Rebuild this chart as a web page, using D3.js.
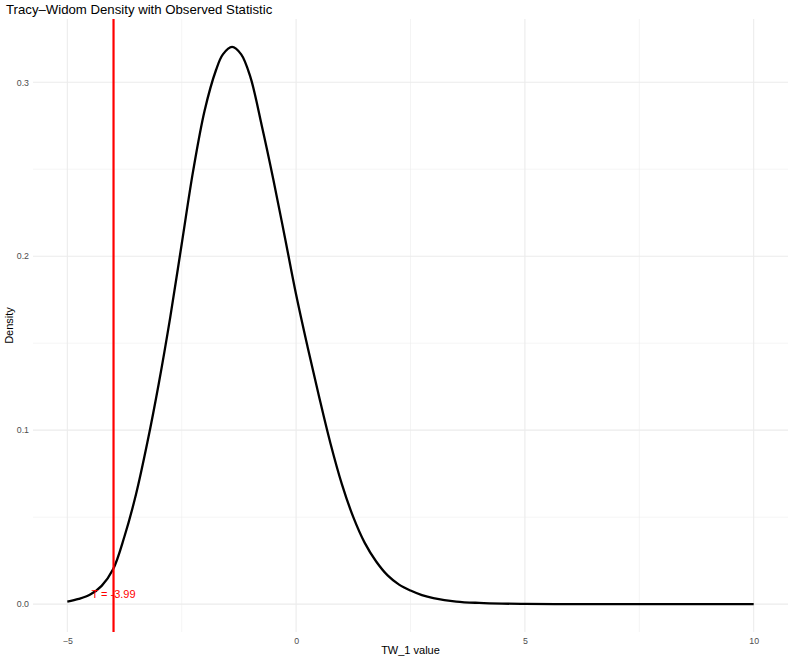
<!DOCTYPE html>
<html>
<head>
<meta charset="utf-8">
<script src="https://cdn.jsdelivr.net/npm/d3@7"></script>
<style>
  html, body { margin: 0; padding: 0; background: #fff; }
  svg { display: block; font-family: "Liberation Sans", Arial, Helvetica, sans-serif; }
</style>
</head>
<body>
<svg id="chart" width="793" height="661"></svg>
<script>
// ---- data ----
const xValues = [-5, -4.75, -4.5, -4.25, -4, -3.75, -3.5, -3.25, -3, -2.75, -2.5, -2.25, -2, -1.75, -1.6, -1.4, -1.2, -1, -0.75, -0.5, -0.25, 0, 0.25, 0.5, 0.75, 1, 1.25, 1.5, 1.75, 2, 2.25, 2.5, 2.75, 3, 3.5, 4, 4.5, 5, 6, 7, 8, 9, 10];
const densityValues = [0.0014, 0.0030, 0.0055, 0.0105, 0.0200, 0.0390, 0.0630, 0.0930, 0.1270, 0.1650, 0.2070, 0.2490, 0.2836, 0.3070, 0.3160, 0.3203, 0.3160, 0.3030, 0.2750, 0.2444, 0.2115, 0.1780, 0.1480, 0.1195, 0.0925, 0.0690, 0.0500, 0.0352, 0.0245, 0.0165, 0.0112, 0.0078, 0.0052, 0.0035, 0.0015, 0.0007, 0.0003, 0.00015, 0.00003, 0, 0, 0, 0];
const observedStat = -3.99;
const labelY = 0.006;
const xTicks = [-5, 0, 5, 10];
const xMinorTicks = [-2.5, 2.5, 7.5];
const yTicks = [0.0, 0.1, 0.2, 0.3];
const yMinorTicks = [0.05, 0.15, 0.25];
const titleText = "Tracy\u2013Widom Density with Observed Statistic";
const xTitle = "TW_1 value";
const yTitle = "Density";

// ---- layout ----
const svg = d3.select("#chart");
const panel = { left: 33, right: 788, top: 19, bottom: 632 };

const xExt = [-5, 10];
const xPad = (xExt[1] - xExt[0]) * 0.05;
const x = d3.scaleLinear().domain([xExt[0] - xPad, xExt[1] + xPad]).range([panel.left, panel.right]);
const yMax = d3.max(densityValues);
const yPad = yMax * 0.05;
const y = d3.scaleLinear().domain([0 - yPad, yMax + yPad]).range([panel.bottom, panel.top]);

const grid = svg.append("g");
grid.selectAll(".xminor").data(xMinorTicks).join("line")
  .attr("x1", d => x(d)).attr("x2", d => x(d))
  .attr("y1", panel.top).attr("y2", panel.bottom)
  .attr("stroke", "#EBEBEB").attr("stroke-width", 0.55);
grid.selectAll(".yminor").data(yMinorTicks).join("line")
  .attr("y1", d => y(d)).attr("y2", d => y(d))
  .attr("x1", panel.left).attr("x2", panel.right)
  .attr("stroke", "#EBEBEB").attr("stroke-width", 0.55);
grid.selectAll(".xmajor").data(xTicks).join("line")
  .attr("x1", d => x(d)).attr("x2", d => x(d))
  .attr("y1", panel.top).attr("y2", panel.bottom)
  .attr("stroke", "#EBEBEB").attr("stroke-width", 1.07);
grid.selectAll(".ymajor").data(yTicks).join("line")
  .attr("y1", d => y(d)).attr("y2", d => y(d))
  .attr("x1", panel.left).attr("x2", panel.right)
  .attr("stroke", "#EBEBEB").attr("stroke-width", 1.07);

const fmtX = d => d < 0 ? "\u2212" + Math.abs(d) : String(d);
const xAxis = d3.axisBottom(x).tickValues(xTicks).tickSize(0).tickPadding(0).tickFormat(fmtX);
const gx = svg.append("g").attr("transform", `translate(0,${panel.bottom})`).call(xAxis);
gx.select(".domain").remove();
gx.selectAll("text").attr("fill", "#4D4D4D").attr("font-size", "8.8px").attr("dy", "0").attr("y", 12);

const yAxis = d3.axisLeft(y).tickValues(yTicks).tickSize(0).tickPadding(0).tickFormat(d3.format(".1f"));
const gy = svg.append("g").attr("transform", `translate(${panel.left - 4},0)`).call(yAxis);
gy.select(".domain").remove();
gy.selectAll("text").attr("fill", "#4D4D4D").attr("font-size", "8.8px").attr("x", 0).attr("dy", "0.32em");

const pts = xValues.map((v, i) => [v, densityValues[i]]);
const line = d3.line().x(d => x(d[0])).y(d => y(d[1])).curve(d3.curveCatmullRom.alpha(0.5));
svg.append("path").datum(pts)
  .attr("d", line).attr("fill", "none")
  .attr("stroke", "#000").attr("stroke-width", 2.3).attr("stroke-linejoin", "round");

svg.append("line")
  .attr("x1", x(observedStat)).attr("x2", x(observedStat))
  .attr("y1", panel.top).attr("y2", panel.bottom)
  .attr("stroke", "#FF0000").attr("stroke-width", 2.2);
svg.append("text")
  .attr("x", x(observedStat)).attr("y", y(labelY))
  .attr("text-anchor", "middle").attr("dy", "0.35em")
  .attr("fill", "#FF0000").attr("font-size", "11px")
  .text("T = " + observedStat.toFixed(2));

svg.append("text").attr("x", 6).attr("y", 14)
  .attr("font-size", "13.2px").attr("fill", "#000").text(titleText);
svg.append("text").attr("x", (panel.left + panel.right) / 2).attr("y", 654)
  .attr("text-anchor", "middle").attr("font-size", "11px").attr("fill", "#000").text(xTitle);
svg.append("text").attr("transform", `translate(13,${(panel.top + panel.bottom) / 2}) rotate(-90)`)
  .attr("text-anchor", "middle").attr("font-size", "11px").attr("fill", "#000").text(yTitle);
</script>
</body>
</html>
